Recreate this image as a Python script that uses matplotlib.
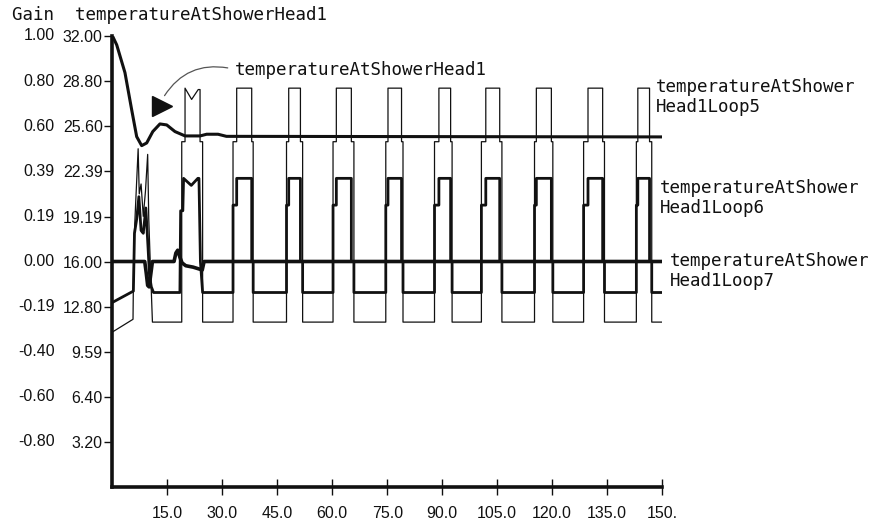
import matplotlib.pyplot as plt

# axis ticks and labels
x_ticks = [15, 30, 45, 60, 75, 90, 105, 120, 135, 150]
x_tick_labels = ['15.0', '30.0', '45.0', '60.0', '75.0', '90.0',
                 '105.0', '120.0', '135.0', '150.']
y_ticks = [3.20, 6.40, 9.59, 12.80, 16.00, 19.19, 22.39, 25.60, 28.80, 32.00]
temp_labels = ['3.20', '6.40', '9.59', '12.80', '16.00',
               '19.19', '22.39', '25.60', '28.80', '32.00']
gain_labels = ['-0.80', '-0.60', '-0.40', '-0.19', '0.00',
               '0.19', '0.39', '0.60', '0.80', '1.00']

# temperatureAtShowerHead1 (thick decaying curve)
head_t = [0, 1.15, 3.4, 5.24, 6.6, 7.96, 9.33, 11.0, 12.95, 14.8, 17.05,
          19.8, 23.9, 25.7, 28.8, 31.1, 150]
head_v = [32.0, 31.37, 29.4, 26.76, 24.86, 24.22, 24.41, 25.22, 25.76, 25.69,
          25.22, 24.91, 24.91, 25.03, 25.03, 24.88, 24.84]

# start-up transients (first ~25 s)
loop5_t = [0, 5.6, 5.8, 6.3, 7.0, 7.3, 7.8, 8.4, 9.0, 9.6, 9.9, 10.3, 10.9,
           18.9, 18.9, 19.8, 19.8, 21.6, 23.4, 23.9, 23.9, 24.6, 24.6]
loop5_v = [11.0, 11.9, 17.0, 20.0, 24.0, 20.8, 21.5, 19.2, 21.0, 23.6, 19.0,
           16.0, 11.7, 11.7, 24.5, 24.5, 28.3, 27.5, 28.2, 28.2, 24.5, 24.5, 11.7]
loop6_t = [0, 5.7, 6.0, 6.6, 7.2, 7.8, 8.4, 9.1, 9.7, 10.1, 10.6, 11.2,
           18.4, 18.6, 19.2, 19.4, 21.5, 23.3, 23.6, 24.0, 24.6]
loop6_v = [13.1, 13.9, 18.0, 19.0, 20.6, 18.2, 18.0, 19.8, 17.0, 15.0, 14.2,
           13.8, 13.8, 19.6, 19.6, 21.9, 21.4, 21.9, 21.9, 16.0, 13.8]
loop7_t = [0, 8.8, 9.2, 9.6, 10.0, 10.5, 10.9, 16.8, 17.3, 17.8, 18.4, 19.0,
           20.0, 22.0, 24.5, 25.0, 150]
loop7_v = [16.0, 16.0, 15.2, 14.3, 14.2, 15.2, 16.0, 16.0, 16.6, 16.8, 16.3,
           15.9, 15.7, 15.6, 15.4, 16.0, 16.0]

# pulse edges of the periodic part (s)
rise_lo = [32.9, 47.5, 60.2, 74.6, 87.9, 100.7, 115.2, 128.6, 143.0]
rise_hi = [33.9, 48.1, 61.1, 75.2, 89.1, 101.9, 115.7, 129.8, 143.4]
fall_hi = [38.0, 51.3, 65.2, 78.9, 92.3, 105.7, 119.8, 133.8, 146.6]
fall_lo = [38.4, 51.9, 65.9, 79.3, 92.7, 106.3, 120.2, 134.3, 147.2]

# levels: low, intermediate step, high, level after fall
loop5_levels = [11.7, 24.5, 28.3, 24.5]
loop6_levels = [13.8, 20.0, 21.9, 16.0]


def pulses(t0, v0, levels):
    low, mid, high, after = levels
    t, v = list(t0), list(v0)
    for a, b, c, d in zip(rise_lo, rise_hi, fall_hi, fall_lo):
        t += [a, a, b, b, c, c, d, d]
        v += [low, mid, mid, high, high, after, after, low]
    t.append(150)
    v.append(low)
    return t, v


fig = plt.figure(figsize=(8.73, 5.27), dpi=100)
ax = fig.add_axes([112.5 / 873, 40 / 527, 549.5 / 873, 451 / 527])

k = '#111111'
t5, v5 = pulses(loop5_t, loop5_v, loop5_levels)
t6, v6 = pulses(loop6_t, loop6_v, loop6_levels)
ax.plot(t5, v5, color=k, lw=0.9)
ax.plot(t6, v6, color=k, lw=2.0)
ax.plot(loop7_t, loop7_v, color=k, lw=2.6)
ax.plot(head_t, head_v, color=k, lw=2.2)

ax.set_xlim(0, 150)
ax.set_ylim(0, 32)
for s in ['top', 'right']:
    ax.spines[s].set_visible(False)
for s in ['left', 'bottom']:
    ax.spines[s].set_linewidth(2.6)
    ax.spines[s].set_color(k)

tick_font = {'family': 'Liberation Sans', 'size': 11.5}
ax.set_xticks(x_ticks)
ax.set_xticklabels(x_tick_labels, fontdict=tick_font)
ax.set_yticks(y_ticks)
ax.set_yticklabels(temp_labels, fontdict=tick_font)
ax.tick_params(axis='x', direction='inout', length=11, width=1, pad=8, colors=k)
ax.tick_params(axis='y', direction='out', length=6, width=1, pad=1, colors=k)

for v, g in zip(y_ticks, gain_labels):
    ax.annotate(g, xy=(0, v), xycoords=('axes fraction', 'data'),
                xytext=(-58, 0), textcoords='offset pixels',
                ha='right', va='center', color=k, **tick_font)

mono = {'family': 'DejaVu Sans Mono', 'size': 12.6, 'color': k}
fig.text(12 / 873, 1 - 15 / 527, 'Gain  temperatureAtShowerHead1',
         ha='left', va='center', **mono)
fig.text(656 / 873, 1 - 97 / 527, 'temperatureAtShower\nHead1Loop5',
         ha='left', va='center', linespacing=1.1, **mono)
fig.text(660 / 873, 1 - 198 / 527, 'temperatureAtShower\nHead1Loop6',
         ha='left', va='center', linespacing=1.1, **mono)
fig.text(670 / 873, 1 - 271 / 527, 'temperatureAtShower\nHead1Loop7',
         ha='left', va='center', linespacing=1.1, **mono)

# annotation with curved leader and triangle marker
ax.text(33.5, 29.6, 'temperatureAtShowerHead1', ha='left', va='center', **mono)
ax.annotate('', xy=(13.8, 27.6), xytext=(32.2, 29.7),
            arrowprops=dict(arrowstyle='-', color='#555555', lw=0.9,
                            connectionstyle='arc3,rad=0.35'))
ax.plot([13.4], [27.0], marker='>', ms=15, color=k)

fig.savefig('out.png', dpi=100)
